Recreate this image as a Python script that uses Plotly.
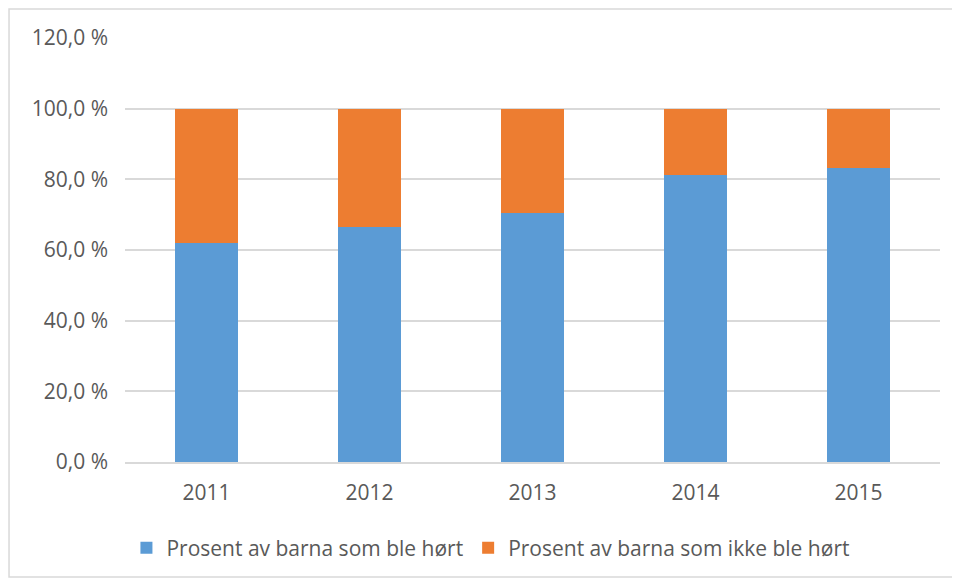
import plotly.graph_objects as go

years = ["2011", "2012", "2013", "2014", "2015"]
hoert = [62.1, 66.5, 70.5, 81.3, 83.3]
ikke_hoert = [37.9, 33.5, 29.5, 18.7, 16.7]
tick_vals = [0, 20, 40, 60, 80, 100, 120]
tick_text = ["0,0 %", "20,0 %", "40,0 %", "60,0 %", "80,0 %", "100,0 %", "120,0 %"]

FONT = "Open Sans, Liberation Sans, sans-serif"
TXT = "#595959"
FS = 21

fig = go.Figure()
fig.add_trace(go.Bar(x=years, y=hoert, name="Prosent av barna som ble hørt",
                     marker=dict(color="#5B9BD5", line=dict(width=0))))
fig.add_trace(go.Bar(x=years, y=ikke_hoert, name="Prosent av barna som ikke ble hørt",
                     marker=dict(color="#ED7D31", line=dict(width=0))))

fig.update_layout(
    barmode="stack",
    bargap=0.61,
    width=952, height=572,
    margin=dict(l=117, r=20, t=30, b=118),
    plot_bgcolor="white", paper_bgcolor="white",
    font=dict(family=FONT, size=FS, color=TXT),
    showlegend=True,
    legend=dict(orientation="h", x=0.449, xanchor="center", y=-0.203, yanchor="middle",
                font=dict(size=FS, color=TXT), traceorder="normal", itemwidth=30),
    xaxis=dict(showgrid=False, showline=True, linecolor="#d9d9d9", linewidth=1.5,
               ticks="", ticklabelstandoff=11, tickfont=dict(size=FS, color=TXT)),
    yaxis=dict(range=[0, 120], tickvals=tick_vals, ticktext=tick_text,
               showgrid=True, gridcolor="#d9d9d9", gridwidth=1.5,
               zeroline=False, showline=False, ticks="", ticklabelstandoff=16,
               tickfont=dict(size=FS, color=TXT)),
    shapes=[dict(type="rect", xref="paper", yref="paper",
                 x0=-0.1423, x1=1.0184, y0=-0.2712, y1=1.0684,
                 line=dict(color="#d9d9d9", width=1.5), fillcolor="rgba(0,0,0,0)",
                 layer="below")],
)

fig.write_html("out.html")
